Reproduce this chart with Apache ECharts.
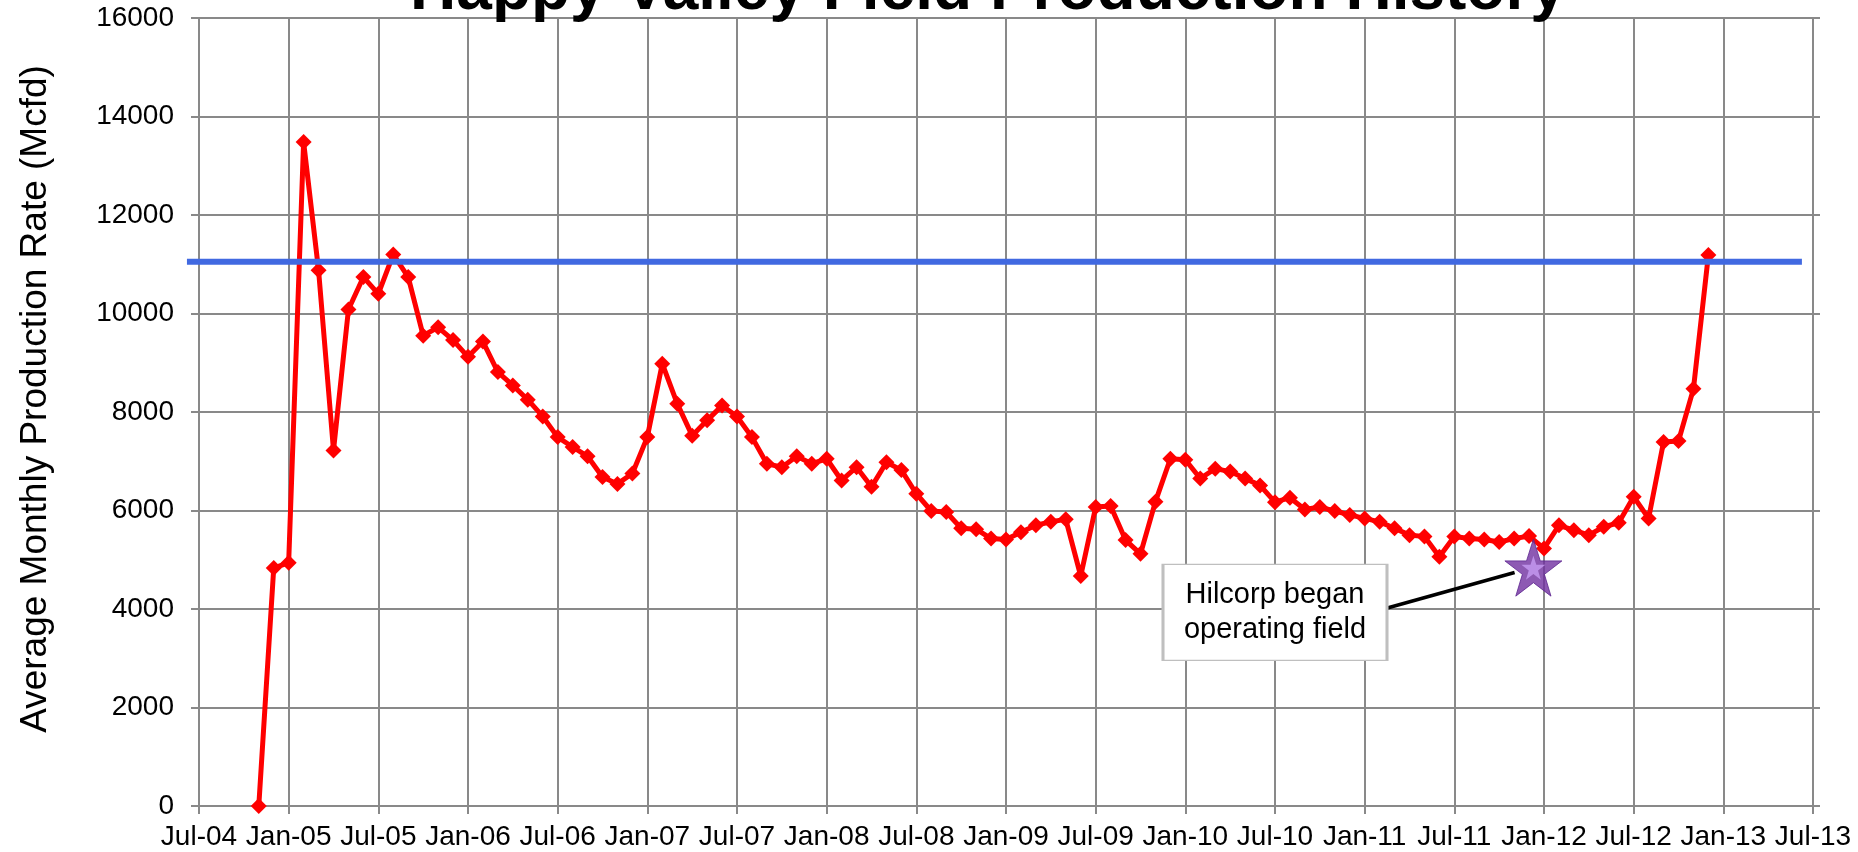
<!DOCTYPE html>
<html>
<head>
<meta charset="utf-8">
<script src="https://cdn.jsdelivr.net/npm/echarts@6/dist/echarts.min.js"></script>
<style>
html,body{margin:0;padding:0;background:#ffffff;}
#chart{width:1858px;height:852px;}
</style>
</head>
<body>
<div id="chart"></div>
<script>
// ---------- data ----------
const months = [
  '2004-11','2004-12',
  '2005-01','2005-02','2005-03','2005-04','2005-05','2005-06','2005-07','2005-08','2005-09','2005-10','2005-11','2005-12',
  '2006-01','2006-02','2006-03','2006-04','2006-05','2006-06','2006-07','2006-08','2006-09','2006-10','2006-11','2006-12',
  '2007-01','2007-02','2007-03','2007-04','2007-05','2007-06','2007-07','2007-08','2007-09','2007-10','2007-11','2007-12',
  '2008-01','2008-02','2008-03','2008-04','2008-05','2008-06','2008-07','2008-08','2008-09','2008-10','2008-11','2008-12',
  '2009-01','2009-02','2009-03','2009-04','2009-05','2009-06','2009-07','2009-08','2009-09','2009-10','2009-11','2009-12',
  '2010-01','2010-02','2010-03','2010-04','2010-05','2010-06','2010-07','2010-08','2010-09','2010-10','2010-11','2010-12',
  '2011-01','2011-02','2011-03','2011-04','2011-05','2011-06','2011-07','2011-08','2011-09','2011-10','2011-11','2011-12',
  '2012-01','2012-02','2012-03','2012-04','2012-05','2012-06','2012-07','2012-08','2012-09','2012-10','2012-11','2012-12'
];
const rates = [
  0, 4830,
  4940, 13480, 10880, 7220, 10080, 10740, 10400, 11200, 10740, 9550, 9720, 9460,
  9120, 9430, 8810, 8540, 8250, 7910, 7490, 7290, 7100, 6680, 6540, 6750,
  7490, 8980, 8170, 7520, 7830, 8130, 7910, 7490, 6950, 6880, 7100, 6950,
  7050, 6610, 6880, 6480, 6980, 6820, 6340, 5990, 5970, 5640, 5620, 5430,
  5410, 5560, 5700, 5770, 5820, 4670, 6070, 6090, 5400, 5120, 6180, 7050,
  7030, 6650, 6850, 6790, 6650, 6510, 6170, 6260, 6020, 6070, 5990, 5910,
  5840, 5770, 5640, 5500, 5470, 5060, 5470, 5430, 5410, 5360, 5430, 5480,
  5230, 5700, 5600, 5500, 5670, 5750, 6280, 5840, 7390, 7410, 8470, 11190
];
const xTickLabels = ['Jul-04','Jan-05','Jul-05','Jan-06','Jul-06','Jan-07','Jul-07','Jan-08','Jul-08','Jan-09',
                     'Jul-09','Jan-10','Jul-10','Jan-11','Jul-11','Jan-12','Jul-12','Jan-13','Jul-13'];
const axisStart = '2004-07';          // first x tick
const monthsPerTick = 6;
const yMin = 0, yMax = 16000, yStep = 2000;

const titleText = 'Happy Valley Field Production History';
const yAxisTitle = 'Average Monthly Production Rate (Mcfd)';

const referenceRate = 11050;               // blue horizontal line
const referenceFrom = '2004-06-07';
const referenceTo = '2013-06-09';

const hilcorpStart = { date: '2011-12-10', value: 4840 };   // star marker
const calloutText = 'Hilcorp began\noperating field';
const calloutAt = { date: '2010-07-01', value: 3930 };
const arrowFrom = { date: '2011-02-17', value: 4020 };
const arrowTo = { date: '2011-11-02', value: 4740 };

// ---------- helpers ----------
function toIdx(s) {
  const p = s.split('-').map(Number);
  const a = axisStart.split('-').map(Number);
  const day = p[2] ? (p[2] - 1) / 31 : 0;
  return (p[0] - a[0]) * 12 + (p[1] - a[1]) + day;
}
const FONT = '"Liberation Sans", Arial, Helvetica, sans-serif';
const GRID_COLOR = '#898989';
const STAR_PATH = 'path://M50,0 L61.8,35.1 L98.9,35.1 L68.9,56.8 L80.2,91.9 L50,70.2 L19.8,91.9 L31.1,56.8 L1.1,35.1 L38.2,35.1 Z';
const CHEVRON_PATH = 'path://M10,0 L20,14 L16.5,16 L10,7 L3.5,16 L0,14 Z';

const prodData = months.map((m, i) => [toIdx(m), rates[i]]);
const xMax = (xTickLabels.length - 1) * monthsPerTick;

const chart = echarts.init(document.getElementById('chart'), null, { renderer: 'canvas' });
chart.setOption({
  animation: false,
  backgroundColor: '#ffffff',
  title: {
    text: titleText,
    left: 983,
    top: -46,
    textAlign: 'center',
    textStyle: { fontFamily: FONT, fontSize: 64, fontWeight: 'bold', color: '#000' }
  },
  grid: { left: 199, right: 45, top: 18, bottom: 46, outerBoundsMode: 'none', containLabel: false },
  xAxis: {
    type: 'value',
    min: 0, max: xMax, interval: monthsPerTick,
    axisLine: { show: true, onZero: false, lineStyle: { color: GRID_COLOR, width: 2 } },
    axisTick: { show: true, inside: false, length: 8, lineStyle: { color: GRID_COLOR, width: 2 } },
    splitLine: { show: true, lineStyle: { color: GRID_COLOR, width: 2 } },
    axisLabel: {
      show: true, margin: 17, color: '#000', fontFamily: FONT, fontSize: 28,
      showMinLabel: true, showMaxLabel: true, hideOverlap: false,
      formatter: v => xTickLabels[Math.round(v / monthsPerTick)]
    }
  },
  yAxis: [{
    type: 'value',
    min: yMin, max: yMax, interval: yStep,
    name: yAxisTitle,
    nameLocation: 'middle',
    nameGap: 145,
    nameTextStyle: { fontFamily: FONT, fontSize: 37, color: '#000', padding: [0, 0, 0, 26] },
    axisLine: { show: true, lineStyle: { color: GRID_COLOR, width: 2 } },
    axisTick: { show: true, inside: false, length: 8, lineStyle: { color: GRID_COLOR, width: 2 } },
    splitLine: { show: true, lineStyle: { color: GRID_COLOR, width: 2 } },
    axisLabel: { show: true, margin: 25, color: '#000', fontFamily: FONT, fontSize: 28,
                 showMinLabel: true, showMaxLabel: true, formatter: v => String(v) }
  }, {
    type: 'value', position: 'right',
    min: yMin, max: yMax, interval: yStep,
    axisLine: { show: false },
    axisTick: { show: true, inside: false, length: 7, lineStyle: { color: GRID_COLOR, width: 2 } },
    splitLine: { show: false },
    axisLabel: { show: false }
  }],
  series: [
    {
      name: 'Production',
      type: 'line',
      data: prodData,
      symbol: 'diamond',
      symbolSize: 16,
      showAllSymbol: true,
      itemStyle: { color: '#FF0000' },
      lineStyle: { color: '#FF0000', width: 5 },
      z: 2,
      silent: true
    },
    {
      name: 'Hilcorp',
      type: 'scatter',
      data: [[toIdx(hilcorpStart.date), hilcorpStart.value]],
      symbol: STAR_PATH,
      symbolSize: 57,
      itemStyle: { color: '#7030A0', borderColor: '#5E2590', borderWidth: 1 },
      z: 5,
      silent: true,
      markLine: {
        silent: true,
        animation: false,
        symbol: ['none', CHEVRON_PATH],
        symbolSize: [0, 22],
        lineStyle: { color: '#000', width: 3.5, type: 'solid' },
        itemStyle: { color: '#000' },
        label: { show: false },
        emphasis: { disabled: true },
        data: [[
          { coord: [toIdx(arrowFrom.date), arrowFrom.value] },
          { coord: [toIdx(arrowTo.date), arrowTo.value] }
        ]]
      },
      markPoint: {
        silent: true,
        animation: false,
        data: [{
          coord: [toIdx(calloutAt.date), calloutAt.value],
          symbol: 'rect',
          symbolSize: [224, 96],
          itemStyle: { color: '#ffffff', borderColor: '#BFBFBF', borderWidth: 2 },
          label: {
            show: true, position: 'inside', formatter: calloutText,
            fontFamily: FONT, fontSize: 29, lineHeight: 35, color: '#000'
          }
        }]
      }
    },
    {
      name: 'HilcorpInner',
      type: 'scatter',
      data: [[toIdx(hilcorpStart.date), hilcorpStart.value]],
      symbol: STAR_PATH,
      symbolSize: 24,
      itemStyle: { color: '#C79BF2' },
      z: 6,
      silent: true
    }
  ]
});

// blue reference line: positioned through the chart's own scales, may extend past the plot edge
const p1 = chart.convertToPixel({ gridIndex: 0 }, [toIdx(referenceFrom), referenceRate]);
const p2 = chart.convertToPixel({ gridIndex: 0 }, [toIdx(referenceTo), referenceRate]);
chart.setOption({
  graphic: [{
    type: 'line',
    z: 3,
    silent: true,
    shape: { x1: p1[0], y1: p1[1], x2: p2[0], y2: p2[1] },
    style: { stroke: '#4169E1', lineWidth: 6 }
  }]
});
</script>
</body>
</html>
